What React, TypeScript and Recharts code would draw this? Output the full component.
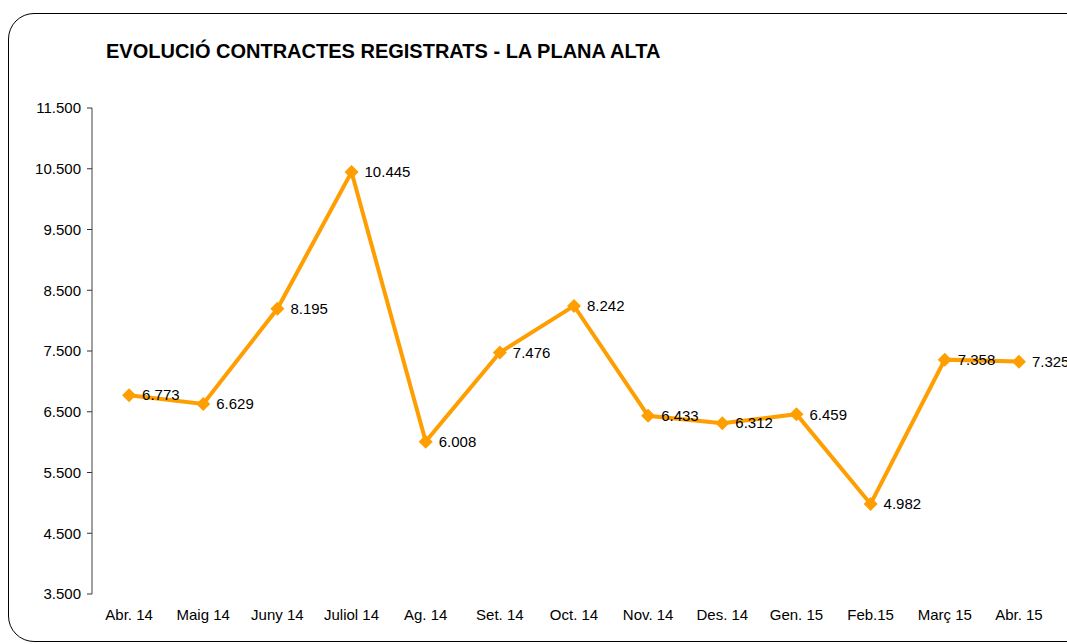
import { LineChart, Line, XAxis, YAxis, LabelList } from 'recharts'

// mesos i contractes registrats
const months = [
  'Abr. 14', 'Maig 14', 'Juny 14', 'Juliol 14', 'Ag. 14', 'Set. 14', 'Oct. 14',
  'Nov. 14', 'Des. 14', 'Gen. 15', 'Feb.15', 'Març 15', 'Abr. 15',
]
const contracts = [6773, 6629, 8195, 10445, 6008, 7476, 8242, 6433, 6312, 6459, 4982, 7358, 7325]
const yTicks = [3500, 4500, 5500, 6500, 7500, 8500, 9500, 10500, 11500]

const data = months.map((m, i) => ({ pos: i + 0.5, month: m, value: contracts[i] }))
const labelTicks = months.map((_, i) => i + 0.5)
const edgeTicks = Array.from({ length: months.length + 1 }, (_, i) => i)

const fmt = (v: number) => v.toLocaleString('de-DE')
const font = '"Liberation Sans", Arial, sans-serif'

const Diamond = (props: any) => {
  const { cx, cy } = props
  if (cx == null || cy == null) return null
  const r = 7
  return (
    <path
      d={`M${cx},${cy - r} L${cx + r},${cy} L${cx},${cy + r} L${cx - r},${cy} Z`}
      fill="#FF9E00"
    />
  )
}

export default function App() {
  return (
    <div style={{ position: 'absolute', left: 0, top: 0, width: 1067, height: 644, background: '#fff', fontFamily: font }}>
      <div
        style={{
          position: 'absolute', left: 8, top: 13, width: 1090, height: 627,
          border: '1.5px solid #000', borderRadius: 26,
        }}
      />
      <div style={{ position: 'absolute', left: 106, top: 40, fontSize: 20, fontWeight: 'bold', color: '#000' }}>
        EVOLUCIÓ CONTRACTES REGISTRATS - LA PLANA ALTA
      </div>
      <div style={{ position: 'absolute', left: 0, top: 0 }}>
        <LineChart width={1067} height={644} data={data} margin={{ top: 108, right: 11, left: 0, bottom: 20 }}>
          <XAxis
            xAxisId="edges"
            type="number"
            dataKey="pos"
            domain={[0, months.length]}
            ticks={edgeTicks}
            tick={false}
            height={0}
            tickSize={5}
            stroke="#000"
            axisLine={{ stroke: '#000', strokeWidth: 1.2 }}
            tickLine={{ stroke: '#000' }}
          />
          <XAxis
            xAxisId="labels"
            type="number"
            dataKey="pos"
            domain={[0, months.length]}
            ticks={labelTicks}
            tickFormatter={(v: number) => months[Math.round(v - 0.5)]}
            axisLine={false}
            tickLine={false}
            height={30}
            tickMargin={9}
            tick={{ fontSize: 15, fill: '#000', fontFamily: font }}
            interval={0}
          />
          <YAxis
            domain={[3500, 11500]}
            ticks={yTicks}
            width={92}
            tickSize={5}
            tickMargin={6}
            tickFormatter={fmt}
            axisLine={{ stroke: '#808080', strokeWidth: 1.5 }}
            tickLine={{ stroke: '#333' }}
            tick={{ fontSize: 15, fill: '#000', fontFamily: font }}
            interval={0}
          />
          <Line
            xAxisId="labels"
            dataKey="value"
            stroke="#FF9E00"
            strokeWidth={4}
            dot={<Diamond />}
            activeDot={false}
            isAnimationActive={false}
          >
            <LabelList
              dataKey="value"
              position="right"
              offset={13}
              formatter={(v: any) => fmt(Number(v))}
              style={{ fontSize: 15, fill: '#000', fontFamily: font }}
            />
          </Line>
        </LineChart>
      </div>
    </div>
  )
}
